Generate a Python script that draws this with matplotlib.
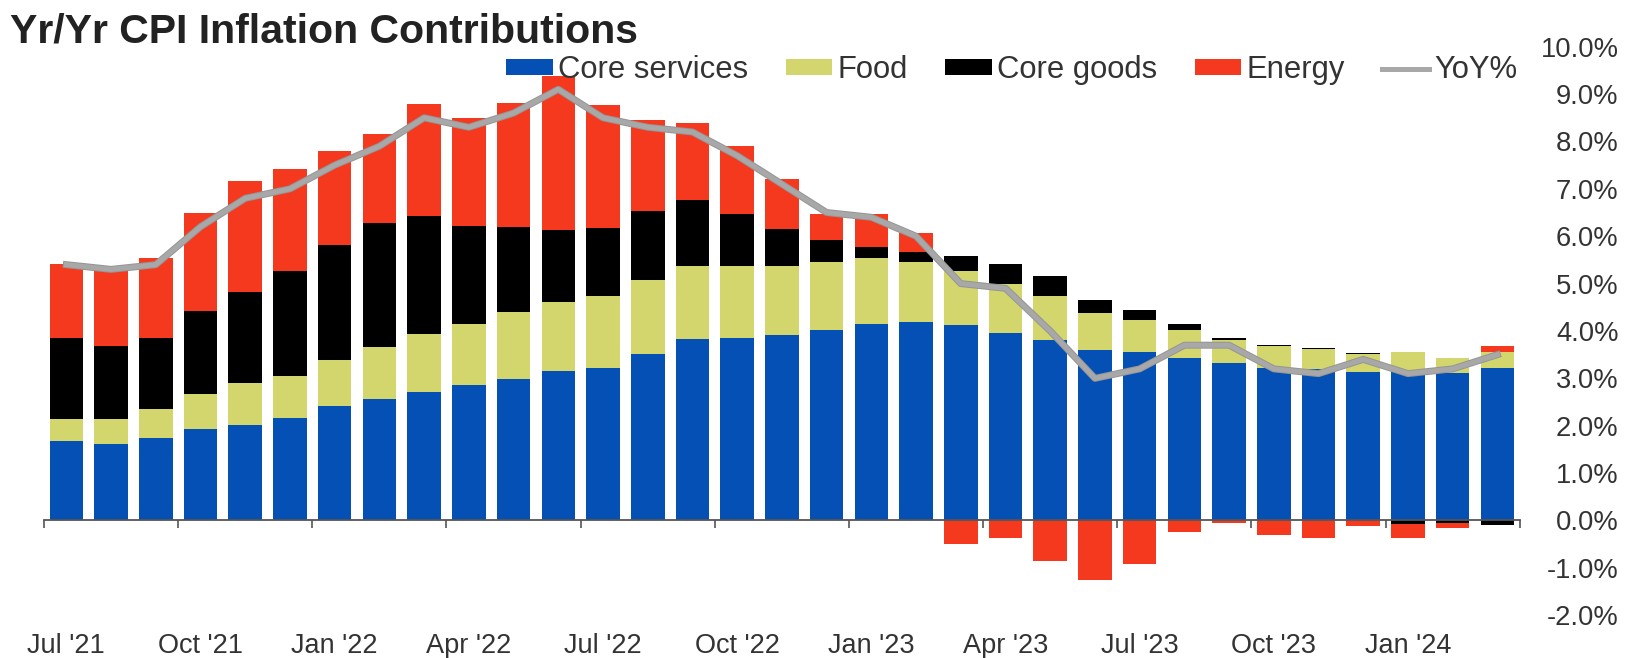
import numpy as np
import matplotlib.pyplot as plt
import matplotlib.patheffects as pe
from matplotlib.patches import Patch
from matplotlib.lines import Line2D

plt.rcParams['font.family'] = ['Liberation Sans', 'DejaVu Sans']

# monthly contributions to headline CPI, percentage points
months = ['2021-07', '2021-08', '2021-09', '2021-10', '2021-11', '2021-12',
          '2022-01', '2022-02', '2022-03', '2022-04', '2022-05', '2022-06',
          '2022-07', '2022-08', '2022-09', '2022-10', '2022-11', '2022-12',
          '2023-01', '2023-02', '2023-03', '2023-04', '2023-05', '2023-06',
          '2023-07', '2023-08', '2023-09', '2023-10', '2023-11', '2023-12',
          '2024-01', '2024-02', '2024-03']
core_services = [1.68, 1.61, 1.74, 1.93, 2.02, 2.16, 2.41, 2.56, 2.72, 2.86, 2.99, 3.16,
                 3.21, 3.51, 3.84, 3.86, 3.91, 4.02, 4.14, 4.18, 4.13, 3.96, 3.81, 3.59,
                 3.56, 3.44, 3.33, 3.22, 3.20, 3.14, 3.13, 3.11, 3.21]
food = [0.47, 0.54, 0.62, 0.75, 0.88, 0.90, 0.97, 1.10, 1.22, 1.29, 1.40, 1.45,
        1.52, 1.56, 1.53, 1.51, 1.46, 1.44, 1.40, 1.28, 1.14, 1.03, 0.93, 0.79,
        0.68, 0.58, 0.48, 0.46, 0.41, 0.37, 0.43, 0.32, 0.35]
core_goods = [1.71, 1.54, 1.50, 1.75, 1.93, 2.21, 2.44, 2.61, 2.49, 2.07, 1.81, 1.52,
              1.45, 1.47, 1.40, 1.10, 0.79, 0.45, 0.23, 0.20, 0.31, 0.43, 0.42, 0.28,
              0.20, 0.12, 0.05, 0.03, 0.04, 0.03, -0.07, -0.05, -0.10]
energy = [1.55, 1.67, 1.68, 2.06, 2.33, 2.14, 1.97, 1.88, 2.36, 2.28, 2.62, 3.25,
          2.59, 1.91, 1.61, 1.44, 1.05, 0.56, 0.70, 0.41, -0.50, -0.37, -0.86, -1.26,
          -0.91, -0.25, -0.05, -0.30, -0.37, -0.12, -0.29, -0.11, 0.13]
yoy = [5.4, 5.3, 5.4, 6.2, 6.8, 7.0, 7.5, 7.9, 8.5, 8.3, 8.6, 9.1,
       8.5, 8.3, 8.2, 7.7, 7.1, 6.5, 6.4, 6.0, 5.0, 4.9, 4.0, 3.0,
       3.2, 3.7, 3.7, 3.2, 3.1, 3.4, 3.1, 3.2, 3.5]
quarter_labels = ["Jul '21", "Oct '21", "Jan '22", "Apr '22", "Jul '22", "Oct '22",
                  "Jan '23", "Apr '23", "Jul '23", "Oct '23", "Jan '24"]

series = [
    ('Core services', core_services, '#0450B4'),
    ('Food', food, '#D3D66C'),
    ('Core goods', core_goods, '#000000'),
    ('Energy', energy, '#F5391F'),
]
line_color = '#A8A8A8'

fig = plt.figure(figsize=(16.48, 6.58), dpi=100)
ax = fig.add_axes([0.0267, 0.065, 0.8955, 0.864])

x = np.arange(len(months))
pos_base = np.zeros(len(x))
neg_base = np.zeros(len(x))
for name, vals, color in series:
    vals = np.array(vals)
    bottom = np.where(vals >= 0, pos_base, neg_base)
    ax.bar(x, vals, 0.75, bottom=bottom, color=color, linewidth=0)
    pos_base += np.clip(vals, 0, None)
    neg_base += np.clip(vals, None, 0)

ax.plot(x, yoy, color=line_color, lw=3.6, solid_joinstyle='round',
        path_effects=[pe.Stroke(linewidth=5.0, foreground='#959595'), pe.Normal()])

ax.set_xlim(-0.5, len(x) - 0.5)
ax.set_ylim(-2, 10)

# zero line carries the x axis; month labels sit below the plot
for s in ['top', 'left', 'right']:
    ax.spines[s].set_visible(False)
ax.spines['bottom'].set_position(('data', 0))
ax.spines['bottom'].set_color('#555555')
ax.spines['bottom'].set_linewidth(1.3)
ax.set_xticks(np.arange(0, len(x), 3))
ax.set_xticklabels(quarter_labels)
ax.set_xticks(np.arange(-0.5, len(x), 3), minor=True)
ax.tick_params(axis='x', which='major', length=0, pad=81, labelsize=19.5,
               colors='#333333')
ax.tick_params(axis='x', which='minor', length=6, width=1.2, color='#555555')

ax.yaxis.tick_right()
ax.set_yticks(np.arange(-2, 11, 1))
ax.set_yticklabels([f'{v:.1f}%' for v in np.arange(-2, 11, 1)])
ax.tick_params(axis='y', length=0, pad=71, labelsize=19.7, colors='#333333')
for lab in ax.get_yticklabels():
    lab.set_horizontalalignment('right')

handles = [Patch(facecolor=c, label=n) for n, _, c in series]
handles.append(Line2D([], [], color=line_color, lw=3.6, label='YoY%'))
fig.legend(handles=handles, ncol=5, loc='center', bbox_to_anchor=(0.614, 0.893),
           frameon=False, fontsize=22.3, handlelength=1.5, handleheight=0.42,
           handletextpad=0.18, columnspacing=1.2, labelcolor='#333333',
           borderaxespad=0, borderpad=0)

fig.text(0.006, 0.952, 'Yr/Yr CPI Inflation Contributions', fontsize=29.5,
         fontweight='bold', va='center', color='#222222')

fig.savefig('out.png', dpi=100)
